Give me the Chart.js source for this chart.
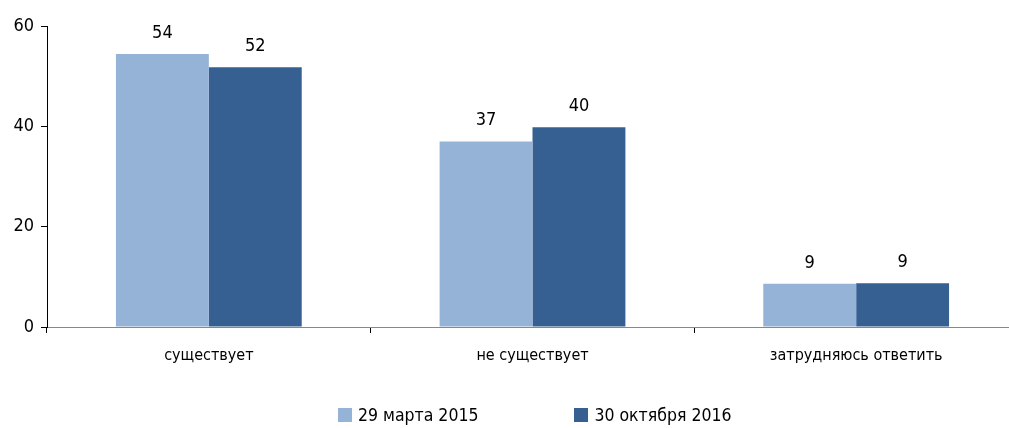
<!DOCTYPE html>
<html>
<head>
<meta charset="utf-8">
<script src="https://cdn.jsdelivr.net/npm/chart.js@4"></script>
<style>
  html, body { margin: 0; padding: 0; background: #fff; overflow: hidden; }
  #wrap { position: relative; width: 1018px; height: 428px; }
  #legend {
    position: absolute; left: 338px; top: 405px;
    display: flex; align-items: center;
    font-family: "DejaVu Sans Condensed", "Liberation Sans Narrow", sans-serif;
    font-size: 17.5px; color: #000;
  }
  .item { display: flex; align-items: center; margin-right: 96px; }
  .box { width: 14px; height: 14px; margin-right: 6px; }
</style>
</head>
<body>
<div id="wrap">
  <canvas id="chart" width="1018" height="428"></canvas>
  <div id="legend"></div>
</div>
<script>
const categories = ["существует", "не существует", "затрудняюсь ответить"];
const seriesNames = ["29 марта 2015", "30 октября 2016"];
const march2015 = [54.4, 37.0, 8.6];
const october2016 = [51.8, 39.8, 8.7];
const yTicks = [0, 20, 40, 60];
const colors = ["#95B3D7", "#366092"];

const fontFamily = '"DejaVu Sans Condensed", "Liberation Sans Narrow", sans-serif';

const valueLabels = {
  id: "valueLabels",
  afterDatasetsDraw(chart) {
    const ctx = chart.ctx;
    ctx.save();
    ctx.font = "18px " + fontFamily;
    ctx.fillStyle = "#000";
    ctx.textAlign = "center";
    ctx.textBaseline = "bottom";
    chart.data.datasets.forEach((ds, i) => {
      chart.getDatasetMeta(i).data.forEach((bar, j) => {
        ctx.fillText(Math.round(ds.data[j]), bar.x, bar.y - 12);
      });
    });
    ctx.restore();
  }
};

new Chart(document.getElementById("chart"), {
  type: "bar",
  data: {
    labels: categories,
    datasets: [
      { label: seriesNames[0], data: march2015, backgroundColor: colors[0] },
      { label: seriesNames[1], data: october2016, backgroundColor: colors[1] }
    ]
  },
  options: {
    responsive: false,
    animation: false,
    categoryPercentage: 0.574,
    barPercentage: 1,
    layout: { padding: { top: 26, right: 0, left: 0, bottom: 0 } },
    plugins: {
      legend: { display: false },
      tooltip: { enabled: false }
    },
    scales: {
      x: {
        grid: { drawOnChartArea: false, tickLength: 6, color: "#000", offset: true },
        border: { color: "#888", width: 1 },
        ticks: { color: "#000", font: { family: fontFamily, size: 16 }, padding: 13 },
        afterFit(scale) { scale.height = 101; }
      },
      y: {
        min: 0,
        max: 60,
        afterBuildTicks(scale) { scale.ticks = yTicks.map((v) => ({ value: v })); },
        grid: { drawOnChartArea: false, tickLength: 6, color: "#000" },
        border: { color: "#000", width: 1 },
        ticks: { color: "#000", font: { family: fontFamily, size: 18 }, padding: 7 },
        afterFit(scale) { scale.width = 47; }
      }
    }
  },
  plugins: [valueLabels]
});

const legend = document.getElementById("legend");
seriesNames.forEach((name, i) => {
  const item = document.createElement("div");
  item.className = "item";
  const box = document.createElement("span");
  box.className = "box";
  box.style.background = colors[i];
  const text = document.createElement("span");
  text.textContent = name;
  item.appendChild(box);
  item.appendChild(text);
  legend.appendChild(item);
});
</script>
</body>
</html>
